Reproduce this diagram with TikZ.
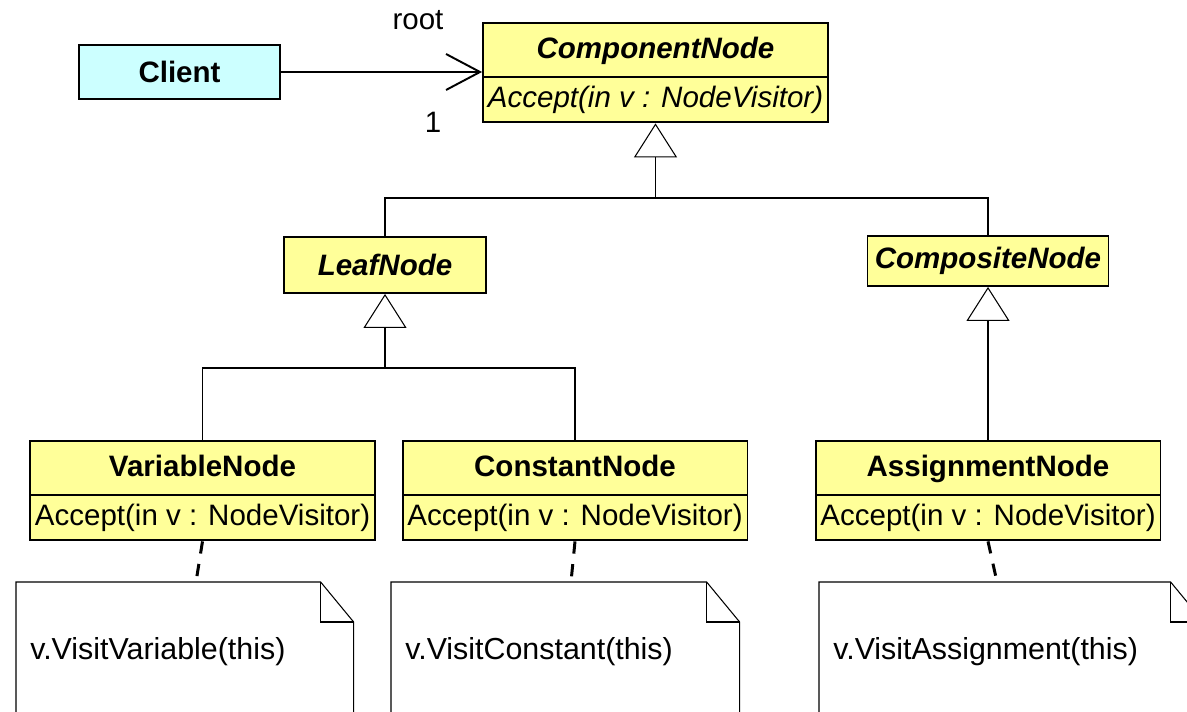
\documentclass[tikz,border=0pt]{standalone}
\usepackage{fontspec}
\setmainfont{Liberation Sans}
\usetikzlibrary{shapes.multipart,arrows.meta}

\definecolor{classyellow}{HTML}{FFFF99}
\definecolor{clientcyan}{HTML}{CCFFFF}
\newcommand\umlfont{\fontsize{16.8}{20}\selectfont}
\newcommand\notefont{\fontsize{17.3}{20}\selectfont}
\newcommand\ttl[1]{\rule[-10pt]{0pt}{29.5pt}#1}
\newcommand\opr[1]{\rule[-7.9pt]{0pt}{24.9pt}#1}
\newcommand\dogear[1]{%
  \draw[notestroke] (#1.south west) -- (#1.north west) -- ([xshift=-0.66cm]#1.north east)
    -- ([yshift=-0.8cm]#1.north east) -- (#1.south east);
  \draw[notestroke] ([xshift=-0.66cm]#1.north east) |- ([yshift=-0.8cm]#1.north east);}

\tikzset{
  umlclass/.style={rectangle split, rectangle split parts=2, draw, line width=1.1pt,
    fill=classyellow, minimum width=6.9cm, inner xsep=2pt, inner ysep=0pt, font=\umlfont},
  umlabstract/.style={draw, line width=1.1pt, fill=classyellow, inner sep=0pt,
    font=\umlfont\bfseries\itshape},
  clientbox/.style={draw, line width=1.1pt, fill=clientcyan, inner sep=0pt,
    minimum width=4.02cm, minimum height=1.08cm, font=\umlfont\bfseries},
  note/.style={minimum height=2.76cm, inner xsep=0.28cm, align=left, font=\notefont},
  notestroke/.style={line width=0.6pt},
  link/.style={line width=0.6pt},
  inherit/.style={link, -{Triangle[open, length=0.68cm, width=0.86cm]}},
  assoc/.style={link, -{Straight Barb[length=0.68cm, width=0.72cm, line width=1.1pt]}},
  notelink/.style={line width=1.7pt, dash pattern=on 7pt off 6pt},
}

\begin{document}
\begin{tikzpicture}[x=0.02cm,y=-0.02cm]
  \useasboundingbox (0,0) rectangle (1187,712);
  \clip (0,0) rectangle (1187,712);

  % classes
  \node[clientbox] (client) at (179.5,72) {Client};
  \node[umlclass, anchor=north, font=\umlfont\itshape] (component) at (655.5,22)
    {\ttl{\bfseries ComponentNode}\nodepart{two}\opr{Accept(in v : NodeVisitor)}};
  \node[umlabstract, minimum width=4.04cm, minimum height=1.12cm] (leaf) at (385,265) {LeafNode};
  \node[umlabstract, minimum width=4.82cm, minimum height=1cm] (composite) at (988,261) {CompositeNode};
  \node[umlclass, anchor=north] (variable) at (202.5,440)
    {\ttl{\bfseries VariableNode}\nodepart{two}\opr{Accept(in v : NodeVisitor)}};
  \node[umlclass, anchor=north] (constant) at (575,440)
    {\ttl{\bfseries ConstantNode}\nodepart{two}\opr{Accept(in v : NodeVisitor)}};
  \node[umlclass, anchor=north] (assignment) at (988,440)
    {\ttl{\bfseries AssignmentNode}\nodepart{two}\opr{Accept(in v : NodeVisitor)}};

  % notes
  \node[note, text width=6.18cm, anchor=north west] (varnote) at (16,582) {v.VisitVariable(this)};
  \node[note, text width=6.4cm, anchor=north west] (constnote) at (391,582) {v.VisitConstant(this)};
  \node[note, text width=7.12cm, anchor=north west] (assignnote) at (819,582) {v.VisitAssignment(this)};
  \dogear{varnote}
  \dogear{constnote}
  \dogear{assignnote}

  % association
  \draw[assoc] (client.east) -- (client.east -| component.west);
  \node[font=\umlfont, anchor=base] (rolename) at (418,30) {root};
  \node[font=\umlfont, anchor=base] (multiplicity) at (433,133) {1};

  % generalisation
  \coordinate (hubtop) at (655.5,198);
  \draw[inherit] (hubtop) -- (component.south);
  \draw[link] (leaf.north) |- (hubtop) -| (composite.north);
  \coordinate (hubleaf) at (385,368);
  \draw[inherit] (hubleaf) -- (leaf.south);
  \draw[link] (variable.north) |- (hubleaf) -| (constant.north);
  \draw[inherit] (assignment.north) -- (composite.south);

  % note links
  \coordinate (varpin) at (196,582);
  \coordinate (constpin) at (571,582);
  \coordinate (assignpin) at (997,582);
  \draw[notelink] (variable.south) -- (varpin);
  \draw[notelink] (constant.south) -- (constpin);
  \draw[notelink] (assignment.south) -- (assignpin);
\end{tikzpicture}
\end{document}
